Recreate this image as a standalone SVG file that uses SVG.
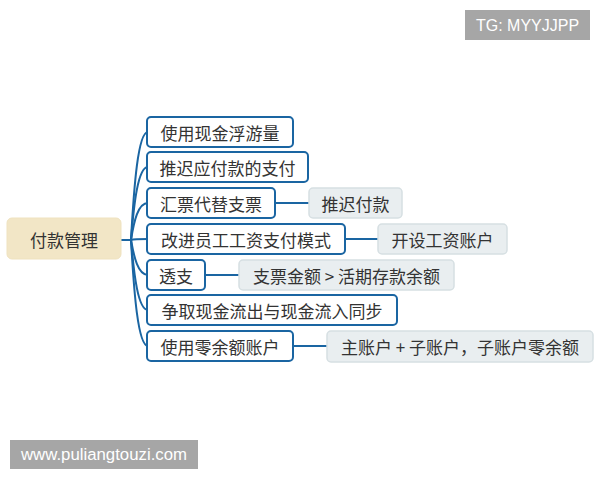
<svg xmlns="http://www.w3.org/2000/svg" width="600" height="480" viewBox="0 0 600 480">
<style>
  .t { font-family: "Noto Sans CJK SC", "Noto Sans", sans-serif; font-size: 17px; fill: #333333; text-anchor: middle; dominant-baseline: central; }
  .main { fill: #ffffff; stroke: #1a65a2; stroke-width: 2; }
  .sub { fill: #e9eef0; stroke: #d6dfe2; stroke-width: 1.5; }
  .root { fill: #f2e6c6; stroke: #efe2bf; stroke-width: 1; }
  .c { fill: none; stroke: #1a65a2; stroke-width: 2; }
  .wm { fill: #a6a6a6; }
  .wmt { font-family: "Liberation Sans", Arial, sans-serif; fill: #ffffff; text-anchor: middle; }
</style>
<rect width="600" height="480" fill="#ffffff"/>
<g id="connectors">
  <path class="c" d="M121,240 H131"/>
  <path class="c" d="M131,240 C134,186 138,132 148,132"/>
  <path class="c" d="M131,240 C134,203 138,167 148,167"/>
  <path class="c" d="M131,240 C134,221 138,203 148,203"/>
  <path class="c" d="M131,240 C134,239 138,239 148,239"/>
  <path class="c" d="M131,240 C134,257 138,275 148,275"/>
  <path class="c" d="M131,240 C134,275 138,310 148,310"/>
  <path class="c" d="M131,240 C134,293 138,346 148,346"/>
  <path class="c" d="M275,203 H309"/>
  <path class="c" d="M345,239 H378"/>
  <path class="c" d="M205,275 H239"/>
  <path class="c" d="M293,346 H327"/>
</g>
<g id="root">
  <rect class="root" x="7" y="218" width="114" height="41" rx="5"/>
  <text class="t" x="64" y="239">付款管理</text>
</g>
<g id="n1">
  <rect class="main" x="147" y="117" width="146" height="30" rx="4"/>
  <text class="t" x="220" y="132">使用现金浮游量</text>
</g>
<g id="n2">
  <rect class="main" x="147" y="152" width="161" height="30" rx="4"/>
  <text class="t" x="227.5" y="167">推迟应付款的支付</text>
</g>
<g id="n3">
  <rect class="main" x="147" y="188" width="128" height="30" rx="4"/>
  <text class="t" x="211" y="203">汇票代替支票</text>
</g>
<g id="n4">
  <rect class="main" x="147" y="224" width="198" height="30" rx="4"/>
  <text class="t" x="246" y="239">改进员工工资支付模式</text>
</g>
<g id="n5">
  <rect class="main" x="147" y="260" width="58" height="30" rx="4"/>
  <text class="t" x="176" y="275">透支</text>
</g>
<g id="n6">
  <rect class="main" x="147" y="295" width="250" height="30" rx="4"/>
  <text class="t" x="272" y="310">争取现金流出与现金流入同步</text>
</g>
<g id="n7">
  <rect class="main" x="147" y="331" width="146" height="30" rx="4"/>
  <text class="t" x="220" y="346">使用零余额账户</text>
</g>
<g id="s3">
  <rect class="sub" x="309" y="188" width="93" height="30" rx="4"/>
  <text class="t" x="355.5" y="203">推迟付款</text>
</g>
<g id="s4">
  <rect class="sub" x="378" y="224" width="129" height="30" rx="4"/>
  <text class="t" x="442.5" y="239">开设工资账户</text>
</g>
<g id="s5">
  <rect class="sub" x="239" y="260" width="215" height="30" rx="4"/>
  <text class="t" x="346.5" y="275">支票金额 &gt; 活期存款余额</text>
</g>
<g id="s7">
  <rect class="sub" x="327" y="331" width="266" height="31" rx="4"/>
  <text class="t" x="460" y="346.5">主账户 + 子账户，子账户零余额</text>
</g>
<g id="watermark-tg">
  <rect class="wm" x="465" y="10" width="125" height="30"/>
  <text class="wmt" x="527.5" y="31" font-size="16">TG: MYYJJPP</text>
</g>
<g id="watermark-url">
  <rect class="wm" x="10" y="440" width="188" height="29"/>
  <text class="wmt" x="104" y="460" font-size="16.8">www.puliangtouzi.com</text>
</g>
</svg>
